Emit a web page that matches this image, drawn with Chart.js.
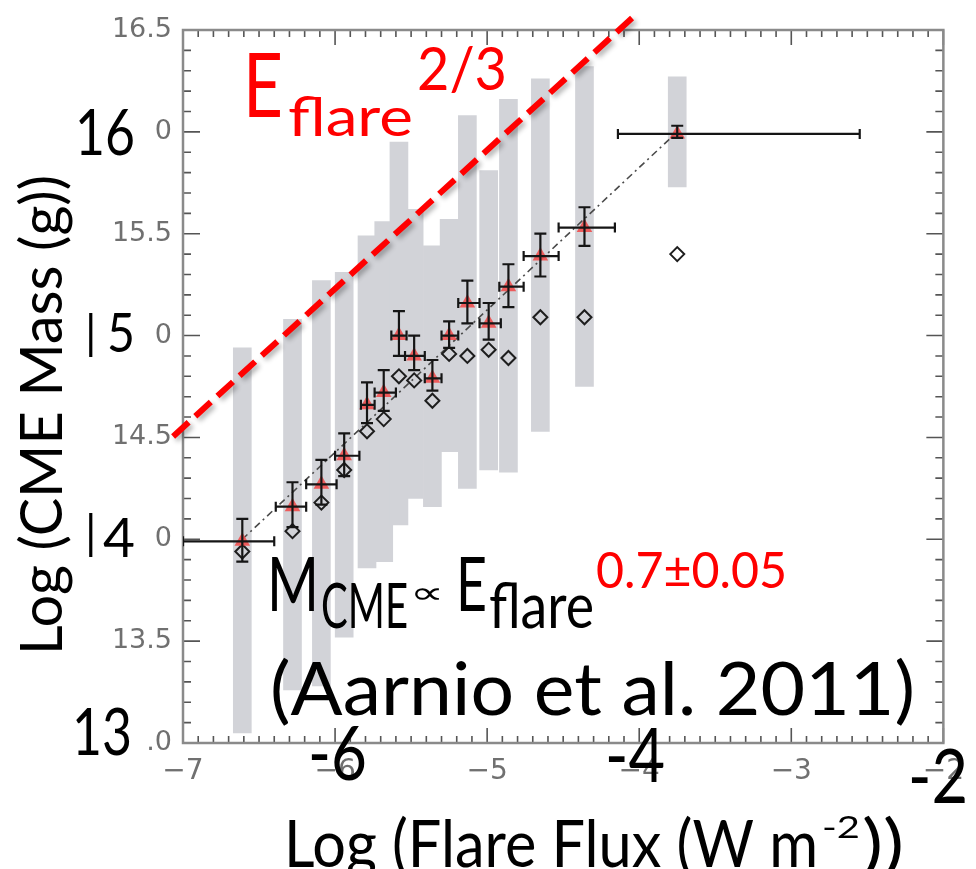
<!DOCTYPE html>
<html>
<head>
<meta charset="utf-8">
<script src="https://cdn.jsdelivr.net/npm/chart.js@4.4.1/dist/chart.umd.min.js"></script>
<style>
html,body{margin:0;padding:0;background:#fff;}
canvas{display:block;}
</style>
</head>
<body>
<canvas id="c" width="976" height="869"></canvas>
<script>
// ---- data ----
const flux        = [-6.61, -6.28, -6.09, -5.94, -5.79, -5.68, -5.58, -5.48, -5.36, -5.25, -5.13, -4.99, -4.86, -4.65, -4.36, -3.75];
const fluxLo      = [-7.00, -6.39, -6.19, -6.00, -5.83, -5.74, -5.63, -5.54, -5.41, -5.30, -5.19, -5.05, -4.92, -4.76, -4.53, -4.14];
const fluxHi      = [-6.40, -6.19, -5.99, -5.84, -5.74, -5.60, -5.53, -5.41, -5.30, -5.19, -5.05, -4.91, -4.76, -4.53, -4.16, -2.55];
const massMean    = [13.99, 14.16, 14.27, 14.41, 14.66, 14.72, 15.00, 14.90, 14.79, 15.00, 15.16, 15.06, 15.24, 15.39, 15.53, 15.99];
const massLo      = [13.89, 14.06, 14.17, 14.31, 14.57, 14.63, 14.90, 14.83, 14.73, 14.94, 15.06, 14.98, 15.14, 15.29, 15.44, 15.97];
const massHi      = [14.10, 14.28, 14.39, 14.52, 14.77, 14.83, 15.12, 15.00, 14.88, 15.07, 15.27, 15.16, 15.35, 15.50, 15.63, 16.03];
const massMedian  = [13.94, 14.04, 14.18, 14.34, 14.53, 14.59, 14.80, 14.78, 14.68, 14.91, 14.90, 14.93, 14.89, 15.09, 15.09, 15.40];
const rangeLo     = [13.05, 13.26, 13.28, 13.52, 13.86, 13.89, 14.07, 14.20, 14.16, 14.43, 14.25, 14.34, 14.33, 14.53, 14.75, 15.73];
const rangeHi     = [14.94, 15.08, 15.27, 15.31, 15.49, 15.56, 15.95, 15.62, 15.44, 15.57, 16.08, 15.81, 16.16, 16.26, 16.32, 16.27];
const fitX        = [-6.61, -3.75];
const fitY        = [14.00, 16.00];
const guideX      = [-7.065, -4.039];
const guideY      = [14.505, 16.564];
const xTickLabels = ['\u22127', '\u22126', '\u22125', '\u22124', '\u22123', '\u22122'];
const yTickLabels = ['13.0', '13.5', '14.0', '14.5', '15.0', '15.5', '16.0', '16.5'];

// ---- helpers ----
function drawFit(ctx, t) {
  ctx.save();
  ctx.font = (t.weight || '400') + ' ' + t.size + 'px ' + (t.family || 'Lato, "Open Sans", sans-serif');
  ctx.textAlign = 'left';
  ctx.textBaseline = 'alphabetic';
  ctx.fillStyle = t.color || '#000';
  const w = ctx.measureText(t.text).width;
  ctx.translate(t.x, t.y);
  if (t.rot) ctx.rotate(t.rot);
  if (t.w) ctx.scale(t.w / w, 1);
  ctx.fillText(t.text, 0, 0);
  ctx.restore();
}

const framePlugin = {
  id: 'frame',
  beforeDatasetsDraw(chart) {
    const {ctx, chartArea: a, scales: {x, y}} = chart;
    ctx.save();
    ctx.strokeStyle = '#555';
    ctx.lineWidth = 1.6;
    ctx.beginPath();
    for (let k = 0; k <= 50; k++) {
      const v = x.min + k * 0.1;
      const p = x.getPixelForValue(v);
      const len = (k % 10 === 0) ? 15 : 7;
      ctx.moveTo(p, a.bottom); ctx.lineTo(p, a.bottom - len);
      ctx.moveTo(p, a.top); ctx.lineTo(p, a.top + len);
    }
    for (let k = 0; k <= 35; k++) {
      const v = y.min + k * 0.1;
      const p = y.getPixelForValue(v);
      const len = (k % 5 === 0) ? 17 : 8;
      ctx.moveTo(a.left, p); ctx.lineTo(a.left + len, p);
      ctx.moveTo(a.right, p); ctx.lineTo(a.right - len, p);
    }
    ctx.stroke();
    ctx.strokeStyle = '#8a8a8a';
    ctx.lineWidth = 2.5;
    ctx.strokeRect(a.left, a.top, a.right - a.left, a.bottom - a.top);
    ctx.restore();
  }
};

const shadowPlugin = {
  id: 'guideShadow',
  beforeDatasetDraw(chart, args) {
    if (chart.data.datasets[args.index].id === 'guide') {
      const ctx = chart.ctx;
      ctx.save();
      ctx.shadowColor = 'rgba(0,0,0,0.30)';
      ctx.shadowBlur = 5;
      ctx.shadowOffsetX = 3;
      ctx.shadowOffsetY = 3;
    }
  },
  afterDatasetDraw(chart, args) {
    if (chart.data.datasets[args.index].id === 'guide') chart.ctx.restore();
  }
};

const errorBarPlugin = {
  id: 'errorBars',
  afterDatasetsDraw(chart) {
    const {ctx, chartArea: a, scales: {x, y}} = chart;
    ctx.save();
    ctx.beginPath();
    ctx.rect(a.left, a.top, a.right - a.left, a.bottom - a.top);
    ctx.clip();
    ctx.strokeStyle = '#151515';
    ctx.lineWidth = 2.2;
    ctx.beginPath();
    for (let i = 0; i < flux.length; i++) {
      const px = x.getPixelForValue(flux[i]);
      const py = y.getPixelForValue(massMean[i]);
      const yl = y.getPixelForValue(massLo[i]);
      const yh = y.getPixelForValue(massHi[i]);
      const xl = x.getPixelForValue(fluxLo[i]);
      const xh = x.getPixelForValue(fluxHi[i]);
      ctx.moveTo(px, yl); ctx.lineTo(px, yh);
      ctx.moveTo(px - 6, yl); ctx.lineTo(px + 6, yl);
      ctx.moveTo(px - 6, yh); ctx.lineTo(px + 6, yh);
      ctx.moveTo(xl, py); ctx.lineTo(xh, py);
      ctx.moveTo(xl, py - 5); ctx.lineTo(xl, py + 5);
      ctx.moveTo(xh, py - 5); ctx.lineTo(xh, py + 5);
    }
    ctx.stroke();
    ctx.restore();
  }
};

const RED = '#ff0000';
const overlayPlugin = {
  id: 'overlay',
  afterDraw(chart) {
    const ctx = chart.ctx;
    // white patches pasted over the original tick labels
    ctx.save();
    ctx.fillStyle = '#ffffff';
    [[60, 106, 94, 48], [80, 306, 74, 56], [80, 506, 74, 56], [60, 704, 84, 56]]
      .forEach(r => ctx.fillRect(r[0], r[1], r[2], r[3]));
    ctx.restore();
    const texts = [
      // big axis numbers
      {text: '16', x: 75, y: 155, size: 63, w: 60},
      {text: '|', x: 85, y: 349, size: 46},
      {text: '5', x: 107, y: 352, size: 54, w: 28},
      {text: '|', x: 85, y: 549, size: 46},
      {text: '4', x: 103, y: 557, size: 54, w: 32},
      {text: '13', x: 72, y: 755, size: 65, w: 60},
      {text: '-6', x: 308, y: 780, size: 76, w: 59},
      {text: '-4', x: 605, y: 782, size: 76, w: 60},
      {text: '-2', x: 908, y: 803, size: 76, w: 60},
      // E_flare^2/3
      {text: 'E', x: 243, y: 117, size: 89, w: 40, color: RED},
      {text: 'flare', x: 288, y: 136, size: 54, w: 125, color: RED},
      {text: '2/3', x: 417, y: 90, size: 60, w: 90, color: RED},
      // M_CME ∝ E_flare^0.7±0.05
      {text: 'M', x: 267, y: 611, size: 75, w: 52},
      {text: 'CME', x: 321, y: 628, size: 62, w: 87},
      {text: '\u221D', x: 410, y: 603, size: 30, w: 34, family: '"DejaVu Sans", sans-serif'},
      {text: 'E', x: 456, y: 611, size: 75, w: 31},
      {text: 'flare', x: 489, y: 628, size: 62, w: 105},
      {text: '0.7\u00B10.05', x: 596, y: 588, size: 50, w: 191, color: RED},
      {text: '(Aarnio et al. 2011)', x: 270, y: 715, size: 74, w: 645},
      // axis titles
      {text: 'Log (CME Mass (g))', x: 62, y: 655, size: 58, w: 480, rot: -Math.PI / 2},
      {text: 'Log (Flare Flux (W m', x: 284, y: 867, size: 65, w: 534},
      {text: '-2', x: 822, y: 838, size: 30, w: 38},
      {text: '))', x: 862, y: 867, size: 65, w: 42}
    ];
    texts.forEach(t => drawFit(ctx, t));
  }
};

const ctx = document.getElementById('c').getContext('2d');
new Chart(ctx, {
  type: 'scatter',
  data: {
    datasets: [
      {
        id: 'range', type: 'bar', order: 5,
        data: flux.map((v, i) => ({x: v, y: [rangeLo[i], rangeHi[i]]})),
        backgroundColor: '#d2d3d8', borderWidth: 0, barThickness: 18
      },
      {
        id: 'fit', type: 'line', order: 4,
        data: fitX.map((v, i) => ({x: v, y: fitY[i]})),
        borderColor: '#4a4a4a', borderWidth: 1.6, borderDash: [7, 4, 2, 4],
        pointRadius: 0, fill: false
      },
      {
        id: 'median', type: 'scatter', order: 3,
        data: flux.map((v, i) => ({x: v, y: massMedian[i]})),
        pointStyle: 'rectRot', pointRadius: 7, borderColor: '#1e1e1e', borderWidth: 2,
        backgroundColor: 'rgba(0,0,0,0)'
      },
      {
        id: 'mean', type: 'scatter', order: 2,
        data: flux.map((v, i) => ({x: v, y: massMean[i]})),
        pointStyle: 'triangle', pointRadius: 9, borderWidth: 0,
        backgroundColor: 'rgba(240,78,78,0.9)'
      },
      {
        id: 'guide', type: 'line', order: 1, clip: false,
        data: guideX.map((v, i) => ({x: v, y: guideY[i]})),
        borderColor: RED, borderWidth: 6, borderDash: [21, 9],
        pointRadius: 0, fill: false
      }
    ]
  },
  options: {
    responsive: false,
    animation: false,
    devicePixelRatio: 1,
    layout: {padding: {top: 30, right: 18, left: 0, bottom: 0}},
    plugins: {legend: {display: false}, tooltip: {enabled: false}},
    scales: {
      x: {
        type: 'linear', min: -7, max: -2, offset: false,
        grid: {display: false, drawTicks: false},
        border: {display: false},
        ticks: {
          stepSize: 1, autoSkip: false, padding: 12, color: '#707070',
          font: {family: '"DejaVu Sans", sans-serif', size: 28},
          callback: (v, i) => xTickLabels[i]
        },
        afterFit: s => { s.height = 126; }
      },
      y: {
        type: 'linear', min: 13, max: 16.5,
        grid: {display: false, drawTicks: false},
        border: {display: false},
        ticks: {
          stepSize: 0.5, autoSkip: false, padding: 11, color: '#707070',
          font: {family: '"DejaVu Sans", sans-serif', size: 27},
          callback: (v, i) => yTickLabels[i]
        },
        afterFit: s => { s.width = 183; }
      }
    }
  },
  plugins: [framePlugin, shadowPlugin, errorBarPlugin, overlayPlugin]
});
</script>
</body>
</html>
